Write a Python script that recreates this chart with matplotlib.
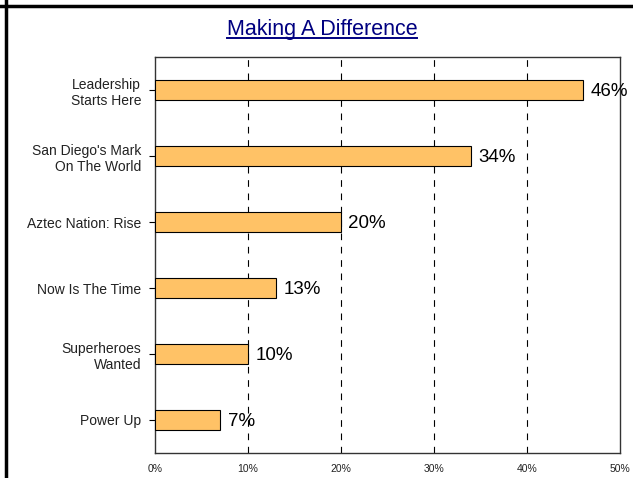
import matplotlib
matplotlib.use("Agg")
import matplotlib.pyplot as plt
from matplotlib.lines import Line2D

plt.rcParams['font.family'] = ['Liberation Sans', 'DejaVu Sans']

categories = ["Leadership\nStarts Here", "San Diego's Mark\nOn The World", "Aztec Nation: Rise",
              "Now Is The Time", "Superheroes\nWanted", "Power Up"]
values = [46, 34, 20, 13, 10, 7]
xticks = [0, 10, 20, 30, 40, 50]
xtick_labels = ["0%", "10%", "20%", "30%", "40%", "50%"]
title = "Making A Difference"

W, H = 633, 478
fig = plt.figure(figsize=(W/100, H/100), dpi=100)
ax = fig.add_axes([155/W, 1-453/H, (620-155)/W, (453-57)/H])

ypos = list(range(len(categories)))
ax.barh(ypos, values, height=0.3, color="#FFC266", edgecolor="black", linewidth=0.8, zorder=3)
for y, v in zip(ypos, values):
    ax.text(v + 0.8, y, f"{v}%", va="center_baseline", ha="left", fontsize=13.5, color="black", zorder=4)

ax.set_ylim(len(categories)-0.5, -0.5)
ax.set_xlim(0, 50)
ax.set_yticks(ypos)
ax.set_yticklabels(categories, fontsize=10, color="#222222", linespacing=1.25)
ax.set_xticks(xticks)
ax.set_xticklabels(xtick_labels, fontsize=7.5, color="#222222")
ax.tick_params(axis='x', length=0, pad=8)
ax.tick_params(axis='y', length=4.5, width=0.8, pad=5.5)
for x in xticks[1:-1]:
    ax.axvline(x, color="black", linestyle=(0, (6, 6)), linewidth=0.8, zorder=1)
for s in ax.spines.values():
    s.set_linewidth(1.0)
    s.set_color("#333333")

t = fig.text(322/W, 1-35/H, title, ha="center", va="baseline", fontsize=15.5, color="#000080")
fig.canvas.draw()
bb = t.get_window_extent()
inv = fig.transFigure.inverted()
(x0, y0), (x1, y1) = inv.transform([[bb.x0, 1], [bb.x1, 1]])
yl = 1 - 38/H
fig.add_artist(Line2D([x0, x1], [yl, yl], color="#000080", linewidth=1.4, transform=fig.transFigure))

# frame border (left and top)
fig.add_artist(Line2D([5.5/W, 5.5/W], [0, 1], color="black", linewidth=2.5, transform=fig.transFigure))
fig.add_artist(Line2D([0, 1], [1-5.5/H, 1-5.5/H], color="black", linewidth=2.5, transform=fig.transFigure))

fig.savefig("out.png", dpi=100)
